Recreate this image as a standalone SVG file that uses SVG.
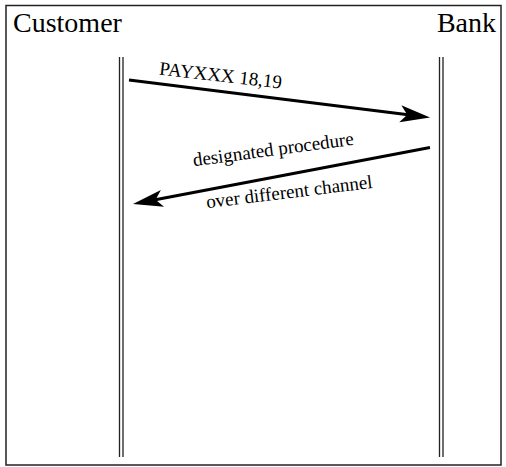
<svg xmlns="http://www.w3.org/2000/svg" width="506" height="467" viewBox="0 0 506 467">
  <style>
    .frame { fill: #ffffff; stroke: #222222; stroke-width: 1.5; }
    .life { stroke: #222222; stroke-width: 1.3; fill: none; }
    .title { font-family: "Liberation Serif", "Times New Roman", Times, serif; font-size: 28px; fill: #000000; }
    .label { font-family: "Liberation Serif", "Times New Roman", Times, serif; font-size: 19px; fill: #000000; text-anchor: middle; }
    .msg { stroke: #000000; stroke-width: 3; fill: none; marker-end: url(#head); }
  </style>
  <defs>
    <marker id="head" markerUnits="userSpaceOnUse" viewBox="-32 -10 34 20" markerWidth="34" markerHeight="20" refX="-20" refY="0" orient="auto">
      <path d="M0,0 L-30,-8.5 L-23,0 L-30,8.5 Z" fill="#000000"/>
    </marker>
  </defs>
  <rect class="frame" x="6" y="5.5" width="495" height="459.5"/>
  <g id="customer">
    <text class="title" x="13" y="32">Customer</text>
    <line class="life" x1="119.5" y1="57" x2="119.5" y2="457"/>
    <line class="life" x1="123" y1="57" x2="123" y2="457"/>
  </g>
  <g id="bank">
    <text class="title" x="496" y="32" text-anchor="end">Bank</text>
    <line class="life" x1="439.5" y1="57" x2="439.5" y2="457"/>
    <line class="life" x1="443" y1="57" x2="443" y2="457"/>
  </g>
  <g id="connectors">
    <line class="msg" x1="129" y1="80" x2="410.2" y2="115"/>
    <text class="label" x="220" y="81.5" transform="rotate(6.5 220 81.5)">PAYXXX 18,19</text>
    <line class="msg" x1="430" y1="147.5" x2="152.65" y2="200.26"/>
    <text class="label" x="274" y="155.5" transform="rotate(-7.7 274 155.5)">designated procedure</text>
    <text class="label" x="290" y="198" transform="rotate(-7 290 198)">over different channel</text>
  </g>
</svg>
